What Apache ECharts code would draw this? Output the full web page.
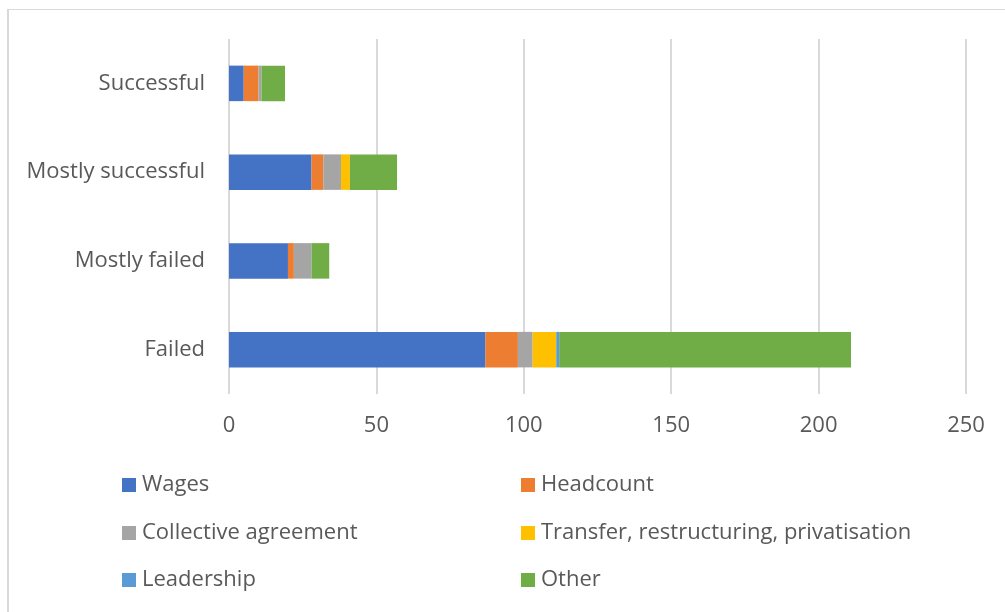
<!DOCTYPE html>
<html>
<head>
<meta charset="utf-8">
<script src="https://cdn.jsdelivr.net/npm/echarts@6/dist/echarts.min.js"></script>
<style>
html,body{margin:0;padding:0;background:#fff;}
#frame{position:absolute;left:7px;top:9px;width:1100px;height:700px;border-top:1px solid #d9d9d9;border-left:2px solid #d9d9d9;}
#main{position:absolute;left:0;top:0;width:1005px;height:612px;}
</style>
</head>
<body>
<div id="frame"></div>
<div id="main"></div>
<script>
const categories = ['Failed', 'Mostly failed', 'Mostly successful', 'Successful'];
const wages = [87, 20, 28, 5];
const headcount = [11, 2, 4, 5];
const collective = [5, 6, 6, 1];
const transfer = [8, 0, 3, 0];
const leadership = [1, 0, 0, 0];
const other = [99, 6, 16, 8];
const xTicks = [0, 50, 100, 150, 200, 250];

const seriesDefs = [
  ['Wages', wages, '#4472C4'],
  ['Headcount', headcount, '#ED7D31'],
  ['Collective agreement', collective, '#A5A5A5'],
  ['Transfer, restructuring, privatisation', transfer, '#FFC000'],
  ['Leadership', leadership, '#5B9BD5'],
  ['Other', other, '#70AD47']
];

const font = 'Open Sans';
const txt = '#595959';
const fs = 22;
const chart = echarts.init(document.getElementById('main'), null, {renderer: 'canvas'});

const legendPos = [[117, 469], [516, 469], [117, 517], [516, 517], [117, 564], [516, 564]];
const legends = seriesDefs.map((d, i) => ({
  data: [d[0]], left: legendPos[i][0], top: legendPos[i][1],
  itemWidth: 14, itemHeight: 14, itemGap: 0, icon: 'rect',
  selectedMode: false,
  textStyle: {color: txt, fontFamily: font, fontSize: fs, padding: [0,0,0,1]}
}));

chart.setOption({
  animation: false,
  color: seriesDefs.map(d => d[2]),
  grid: {left: 229, right: 39, top: 39, bottom: 218, containLabel: false},
  xAxis: {
    type: 'value', min: xTicks[0], max: xTicks[xTicks.length-1], interval: 50,
    axisLine: {show: false}, axisTick: {show: false},
    splitLine: {lineStyle: {color: '#d9d9d9', width: 2}},
    axisLabel: {color: txt, fontFamily: font, fontSize: fs, margin: 21}
  },
  yAxis: {
    type: 'category', data: categories,
    axisLine: {show: false}, axisTick: {show: false},
    axisLabel: {color: txt, fontFamily: font, fontSize: fs, margin: 24, padding: [3,0,0,0]}
  },
  legend: legends,
  series: seriesDefs.map(d => ({
    name: d[0], type: 'bar', stack: 'total', data: d[1],
    barWidth: '40%',
    itemStyle: {color: d[2]}
  }))
});
</script>
</body>
</html>
